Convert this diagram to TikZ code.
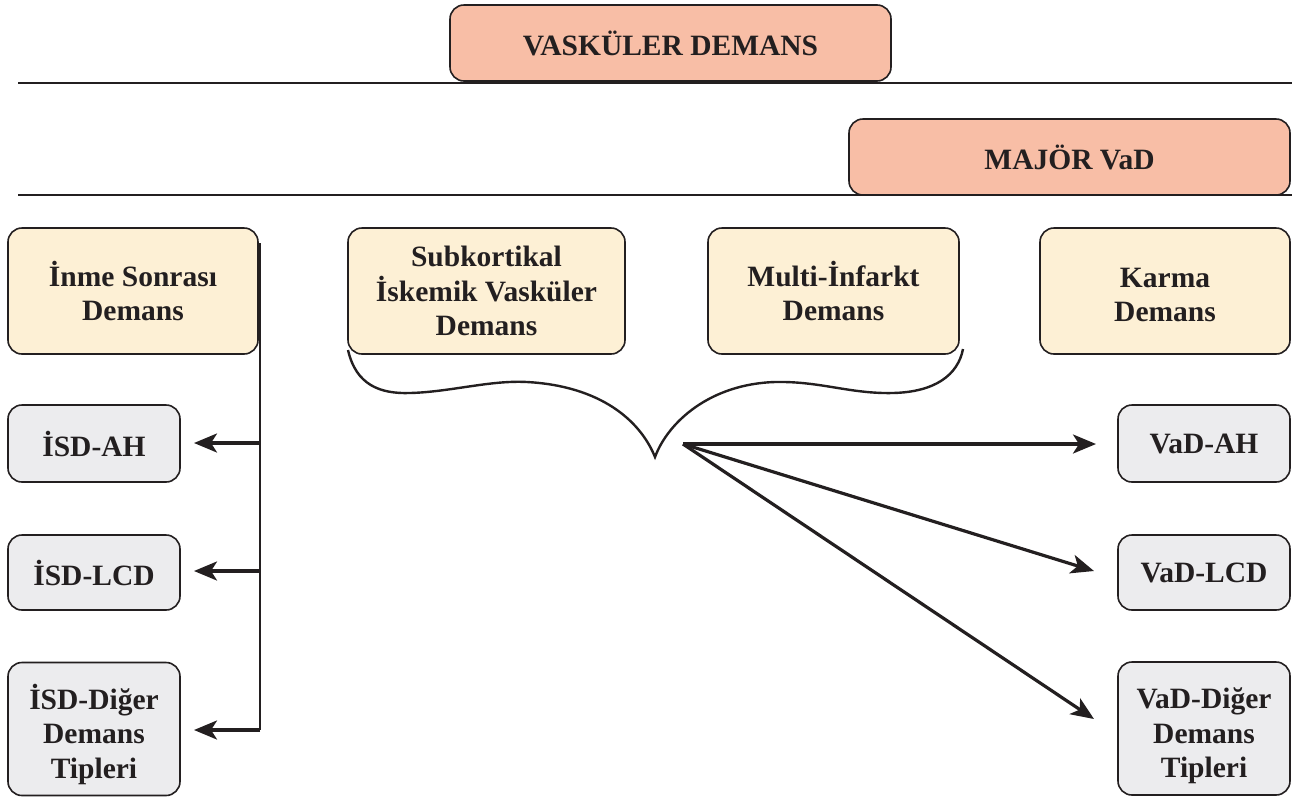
\documentclass[tikz,border=0pt]{standalone}
\usepackage{fontspec}
\setmainfont{Liberation Serif}
\usetikzlibrary{arrows.meta}
\definecolor{ink}{HTML}{231F20}
\definecolor{salmon}{HTML}{F8BEA6}
\definecolor{cream}{HTML}{FDF0D5}
\definecolor{lgray}{HTML}{ECECEE}
\tikzset{
  box/.style={draw=ink, line width=1.6pt, rounded corners=14pt, inner sep=0pt, outer sep=0pt,
    align=center, text=ink, font=\fontsize{29.5}{34.5}\selectfont\bfseries},
  topbox/.style={box, fill=salmon},
  catbox/.style={box, fill=cream},
  subbox/.style={box, fill=lgray},
  rule/.style={draw=ink, line width=2.2pt},
  conn/.style={draw=ink, line width=3.2pt, -{Stealth[length=23pt,width=19pt,inset=6pt]}},
  bracestyle/.style={draw=ink, line width=2.4pt}
}
\begin{document}
\begin{tikzpicture}[x=1pt,y=-1pt]
\useasboundingbox (0,0) rectangle (1292,796);
% rules
\coordinate (r1a) at (18,83); \coordinate (r1b) at (1292,83);
\coordinate (r2a) at (18,195); \coordinate (r2b) at (1292,195);
\draw[rule] (r1a) -- (r1b);
\draw[rule] (r2a) -- (r2b);
% top boxes
\node[topbox, minimum width=441pt, minimum height=76pt] (vd) at (670.5,43) {VASKÜLER DEMANS};
\node[topbox, minimum width=441pt, minimum height=76pt] (maj) at (1069.5,157) {MAJÖR VaD};
% category boxes
\node[catbox, minimum width=250pt, minimum height=126pt] (isd) at (133,291) {İnme Sonrası\\Demans};
\node[catbox, minimum width=277pt, minimum height=126pt] (sub) at (486.5,291) {Subkortikal\\İskemik Vasküler\\Demans};
\node[catbox, minimum width=251pt, minimum height=126pt] (mul) at (833.5,291) {Multi-İnfarkt\\Demans};
\node[catbox, minimum width=250pt, minimum height=126pt] (kar) at (1165,291) {\rule{0pt}{27pt}Karma\\Demans};
% sub boxes left
\node[subbox, minimum width=172pt, minimum height=77pt] (isdah) at (94,443.5) {İSD-AH};
\node[subbox, minimum width=172pt, minimum height=75pt] (isdlcd) at (94,572.5) {İSD-LCD};
\node[subbox, minimum width=172pt, minimum height=133pt] (isddig) at (94,729) {\rule{0pt}{36pt}İSD-Diğer\\Demans\\Tipleri};
% sub boxes right
\node[subbox, minimum width=172pt, minimum height=77pt] (vadah) at (1204,443.5) {VaD-AH};
\node[subbox, minimum width=172pt, minimum height=75pt] (vadlcd) at (1204,572.5) {VaD-LCD};
\node[subbox, minimum width=172pt, minimum height=133pt] (vaddig) at (1204,728.5) {\rule{0pt}{36pt}VaD-Diğer\\Demans\\Tipleri};
% left bracket connector
\coordinate (vtop) at (260,243);
\coordinate (vbot) at (260,730);
\draw[rule, line width=2.8pt] (vtop) -- (vbot);
\draw[conn] (260,443) -- ([xshift=14pt]isdah.east |- 0,443);
\draw[conn] (260,571) -- ([xshift=14pt]isdlcd.east |- 0,571);
\draw[conn] (vbot) -- ([xshift=14pt]isddig.east |- 0,730);
% brace
\coordinate (bl) at (348,350);
\coordinate (tip) at (655,457);
\coordinate (br) at (963,349);
\draw[bracestyle] (bl) .. controls (356,385) and (380,394) .. (410,393)
  .. controls (450,392) and (490,380) .. (527,382)
  .. controls (600,386) and (640,420) .. (tip)
  .. controls (668,422) and (710,384) .. (775,382)
  .. controls (820,381) and (850,394) .. (893,393)
  .. controls (935,392) and (958,375) .. (br);
% right arrows
\coordinate (src) at (683,444);
\draw[conn] (src) -- (1096,444);
\draw[conn] (src) -- (1094,571);
\draw[conn] (src) -- (1094,719);
\end{tikzpicture}
\end{document}
